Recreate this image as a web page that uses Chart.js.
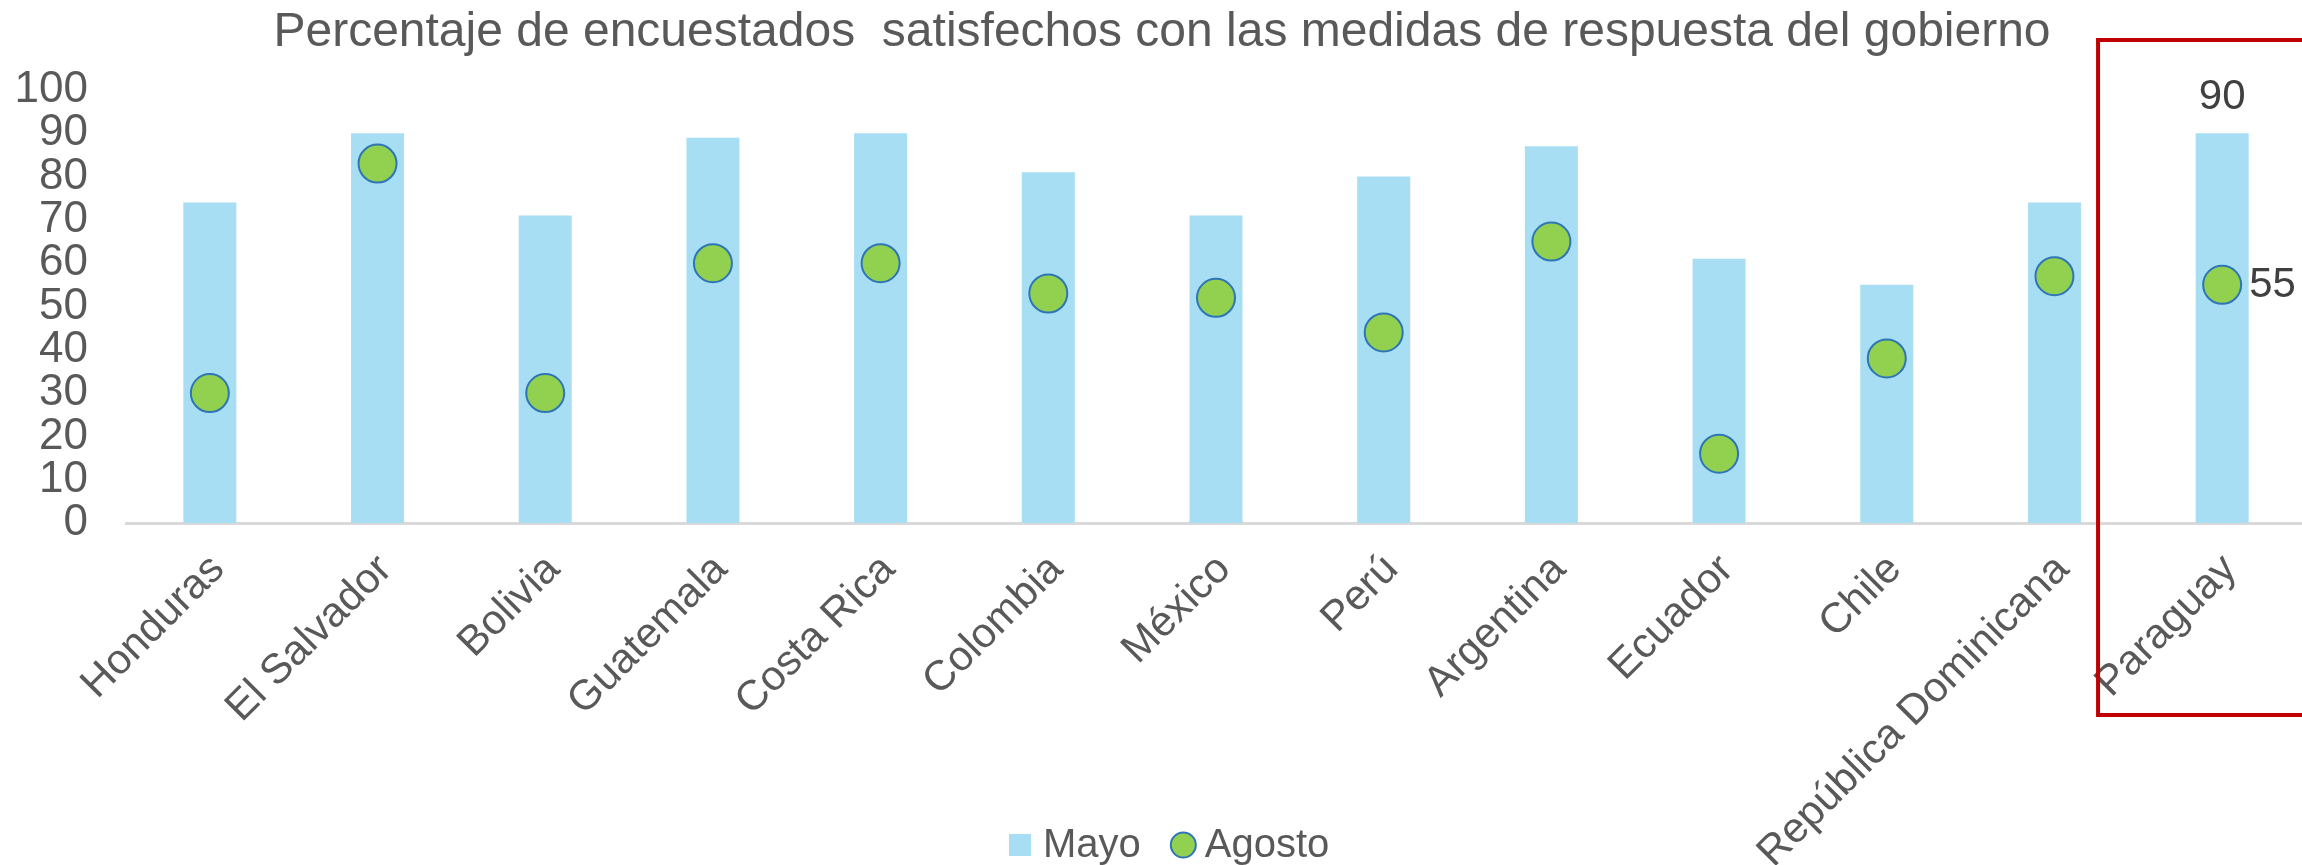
<!DOCTYPE html>
<html>
<head>
<meta charset="utf-8">
<script src="https://cdn.jsdelivr.net/npm/chart.js@4.4.1/dist/chart.umd.min.js"></script>
<style>
  html, body { margin: 0; padding: 0; background: #ffffff; overflow: hidden; }
  #wrap { width: 2327px; height: 865px; }
</style>
</head>
<body>
<div id="wrap"><canvas id="c" width="2327" height="865"></canvas></div>
<script>
const titleText = 'Percentaje de encuestados  satisfechos con las medidas de respuesta del gobierno';
const categories = ['Honduras', 'El Salvador', 'Bolivia', 'Guatemala', 'Costa Rica', 'Colombia', 'México', 'Perú', 'Argentina', 'Ecuador', 'Chile', 'República Dominicana', 'Paraguay'];
const seriesNames = ['Mayo', 'Agosto'];
const mayo = [74, 90, 71, 89, 90, 81, 71, 80, 87, 61, 55, 74, 90];
const agosto = [30, 83, 30, 60, 60, 53, 52, 44, 65, 16, 38, 57, 55];
const yTicks = [0, 10, 20, 30, 40, 50, 60, 70, 80, 90, 100];
const highlightIndex = 12;

const FONT = "'Liberation Sans', Arial, sans-serif";
const TEXT = '#595959';
const BAR = '#A7DEF3';
const DOT = '#92D050';
const DOT_EDGE = '#2E75B6';

const extrasPlugin = {
  id: 'extras',
  afterDraw(chart) {
    const ctx = chart.ctx;
    const xs = chart.scales.x;
    const area = chart.chartArea;
    const barEl = chart.getDatasetMeta(0).data[highlightIndex];
    const ptEl = chart.getDatasetMeta(1).data[highlightIndex];
    ctx.save();
    // data labels for highlighted category
    ctx.fillStyle = '#404040';
    ctx.font = '42px ' + FONT;
    ctx.textBaseline = 'middle';
    ctx.textAlign = 'center';
    ctx.fillText(String(mayo[highlightIndex]), barEl.x, barEl.y - 36);
    ctx.textAlign = 'left';
    ctx.fillText(String(agosto[highlightIndex]), ptEl.x + 27, ptEl.y + 1);
    // red highlight box
    const catW = (area.right - area.left) / categories.length;
    const bx = xs.getPixelForTick(highlightIndex) - 0.74 * catW;
    ctx.strokeStyle = '#C00000';
    ctx.lineWidth = 4;
    ctx.strokeRect(bx, area.top - 50, 400, (area.bottom + 192) - (area.top - 50));
    // legend
    const ly = 845;
    let lx = 1009;
    ctx.fillStyle = BAR;
    ctx.fillRect(lx, ly - 11, 22, 22);
    lx += 34;
    ctx.fillStyle = TEXT;
    ctx.font = '40px ' + FONT;
    ctx.textAlign = 'left';
    ctx.fillText(seriesNames[0], lx, ly + 1);
    lx += ctx.measureText(seriesNames[0]).width + 30;
    ctx.beginPath();
    ctx.arc(lx + 12.5, ly, 12.5, 0, Math.PI * 2);
    ctx.fillStyle = DOT;
    ctx.fill();
    ctx.lineWidth = 2;
    ctx.strokeStyle = DOT_EDGE;
    ctx.stroke();
    lx += 34;
    ctx.fillStyle = TEXT;
    ctx.fillText(seriesNames[1], lx, ly + 1);
    ctx.restore();
  }
};

new Chart(document.getElementById('c'), {
  type: 'bar',
  data: {
    labels: categories,
    datasets: [
      {
        label: seriesNames[0],
        data: mayo,
        backgroundColor: BAR,
        borderWidth: 0,
        categoryPercentage: 1.0,
        barPercentage: 0.316,
        order: 2
      },
      {
        label: seriesNames[1],
        type: 'line',
        data: agosto,
        showLine: false,
        pointStyle: 'circle',
        pointRadius: 19,
        pointHoverRadius: 19,
        pointBackgroundColor: DOT,
        pointBorderColor: DOT_EDGE,
        pointBorderWidth: 2,
        order: 1,
        clip: false
      }
    ]
  },
  options: {
    responsive: false,
    devicePixelRatio: 1,
    animation: false,
    layout: { padding: { left: 0, right: 3, top: 0, bottom: 0 } },
    plugins: {
      legend: { display: false },
      tooltip: { enabled: false },
      title: {
        display: true,
        text: titleText,
        color: TEXT,
        font: { family: FONT, size: 48, weight: 'normal', lineHeight: 1.2 },
        padding: { top: 4, bottom: 28.4 }
      }
    },
    scales: {
      x: {
        grid: { display: false, drawTicks: false },
        border: { display: true, color: '#D9D9D9', width: 3 },
        ticks: {
          color: TEXT,
          font: { family: FONT, size: 42 },
          maxRotation: 45,
          minRotation: 45,
          autoSkip: false,
          padding: 22,
          labelOffset: 8
        },
        afterFit(scale) { scale.height = 342; }
      },
      y: {
        min: 0,
        max: 100,
        grid: { display: false, drawTicks: false },
        border: { display: false },
        afterBuildTicks(scale) { scale.ticks = yTicks.map(v => ({ value: v })); },
        ticks: {
          color: TEXT,
          font: { family: FONT, size: 44 },
          padding: 38,
          autoSkip: false
        },
        afterFit(scale) { scale.width = 126; }
      }
    }
  },
  plugins: [extrasPlugin]
});
</script>
</body>
</html>
